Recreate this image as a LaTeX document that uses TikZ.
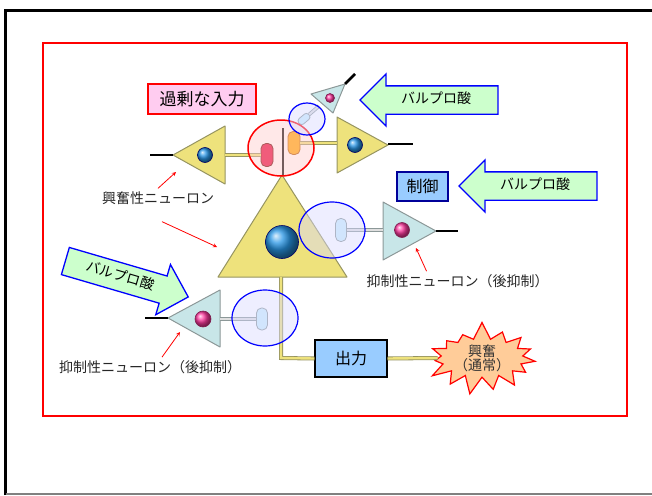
\documentclass[tikz,border=0pt]{standalone}
\usepackage{fontspec}
\setmainfont{Noto Sans CJK JP}
\usepackage{tikz}
\usetikzlibrary{shapes.arrows,shapes.symbols}
\definecolor{excfill}{RGB}{238,226,124}
\definecolor{excline}{RGB}{150,148,96}
\definecolor{inhfill}{RGB}{200,230,232}
\definecolor{inhline}{RGB}{140,152,152}
\definecolor{pinkbox}{RGB}{255,204,240}
\definecolor{vpafill}{RGB}{204,255,204}
\definecolor{bluebox}{RGB}{153,204,255}
\definecolor{starfill}{RGB}{255,204,153}
\definecolor{nucblue}{RGB}{40,150,230}
\definecolor{nucpink}{RGB}{255,60,160}
\newcommand{\vpa}{バルプロ酸}
\newcommand{\inhname}{抑制性ニューロン（後抑制）}
\newcommand{\fs}[1]{\fontsize{#1}{#1}\selectfont}

\begin{document}
\begin{tikzpicture}[x=1pt,y=-1pt,
  exc/.style={fill=excfill,draw=excline,line width=1pt,line join=round},
  inh/.style={fill=inhfill,draw=inhline,line width=1pt,line join=round},
  axy/.style={draw=excline,double=excfill,double distance=2.4pt,line width=0.8pt},
  axg/.style={draw=inhline,double=gray!25,double distance=2pt,line width=0.8pt},
  stem/.style={line width=2.5pt,black},
  knob/.style={rectangle,rounded corners=5pt,minimum width=12pt,minimum height=23pt,inner sep=0pt,line width=0.8pt},
  nucb/.style={circle,inner sep=0pt,ball color=nucblue,draw=blue!40!black,line width=0.6pt},
  nucp/.style={circle,inner sep=0pt,ball color=nucpink,draw=nucpink!50!black,line width=0.6pt},
  syn/.style={draw=blue,line width=1.2pt,fill=blue!15,fill opacity=0.45},
  vparrow/.style={single arrow,draw=blue,line width=1.3pt,fill=vpafill,single arrow head extend=12pt,
    minimum height=138pt,inner ysep=7pt,text height=10pt,text depth=3pt,font=\fs{14}},
  boxb/.style={fill=bluebox,line width=1.2pt,inner sep=0pt,font=\fs{16}},
  lbl/.style={font=\fs{14},text=black!85,inner sep=3pt},
  note/.style={red,line width=0.8pt,-stealth}]
\useasboundingbox (0,0) rectangle (652,495);

\draw[line width=2.5pt] (5.5,495) -- (5.5,10.5) -- (652,10.5);
\draw[gray,line width=1.5pt] (5.5,494) -- (652,494);
\draw[red,line width=2pt] (43,43) rectangle (627,416);

\draw[exc] (282,175) -- (347,277) -- (218,277) -- cycle;
\draw[exc] (173,155) -- (225,126) -- (225,184) -- cycle;
\draw[exc] (388,145) -- (337,117) -- (337,173) -- cycle;
\draw[inh] (436,231) -- (383,202) -- (383,260) -- cycle;
\draw[inh] (168,318) -- (220,290) -- (220,347) -- cycle;
\draw[inh] (311,94) -- (345,84) -- (333,113) -- cycle;

\node[knob,fill=red!75!magenta!90!black,draw=red!40!black] (pk) at (267,155) {};
\node[knob,fill=orange!70!yellow,draw=orange!70!black] (ok) at (294,143) {};
\node[knob,minimum width=11pt,fill=cyan!20,draw=inhline] (rk) at (341,230) {};
\node[knob,minimum width=11pt,minimum height=22pt,fill=cyan!20,draw=inhline] (bk) at (262,319) {};
\node[knob,minimum width=13pt,minimum height=7pt,rounded corners=3pt,rotate=40,fill=cyan!20,draw=inhline] (tk) at (304,119) {};

\node[boxb,draw=black,minimum width=72pt,minimum height=37pt] (out) at (351,358.5) {出力};
\node[starburst,starburst points=15,starburst point height=18pt,random starburst=7,
  fill=starfill,draw=red,line width=1.2pt,minimum width=118pt,minimum height=70pt,
  align=center,font=\fs{14},text=black!80,inner sep=0pt] (boom) at (482,358) {興奮\\（通常）};

\draw[axy] (225,155) -- (pk);
\draw[axy] (337,143) -- (ok);
\draw[axg] (383,230) -- (rk);
\draw[axg] (220,319) -- (bk);
\draw[axg] (319,106) -- (tk);
\draw[axy] (281,277) -- (281,358) -- (out.west);
\draw[axy] (out.east) -- (boom.west);

\node[nucb,minimum size=33pt] at (282,242) {};
\node[nucb,minimum size=15pt] at (205,155) {};
\node[nucb,minimum size=15pt] at (355,145) {};
\node[nucp,minimum size=15pt] at (402,230) {};
\node[nucp,minimum size=16pt] at (203,319) {};
\node[nucp,minimum size=9pt] at (330,98) {};

\draw[stem] (150,155) -- (173,155);
\draw[stem] (388,144) -- (413,144);
\draw[stem] (436,231) -- (458,231);
\draw[stem] (145,318) -- (168,318);
\draw[stem] (345,84) -- (355,74);
\draw[stem] (283,128) -- (283,175);

\draw[draw=red,line width=1.5pt,fill=red!20,fill opacity=0.45] (281,148) ellipse [x radius=33,y radius=28];
\foreach \cx/\cy/\rx/\ry in {307/119/18/16, 332/230/33/28, 265/318/33/28}
  \draw[syn] (\cx,\cy) ellipse [x radius=\rx,y radius=\ry];

\node[draw=red,line width=1.5pt,fill=pinkbox,minimum width=108pt,minimum height=30pt,font=\fs{17}] (over) at (202,99) {過剰な入力};
\node[boxb,draw=blue!60!black,minimum width=51pt,minimum height=29pt] (ctrl) at (422.5,186.5) {制御};

\node[vparrow,shape border rotate=180] (vp1) at (436,100) {\vpa};
\node[vparrow,shape border rotate=180] (vp2) at (535,186) {\vpa};
\node[vparrow,minimum height=128pt,rotate=-16.3] (vp3) at (120,277) {\vpa};

\node[lbl] (exl) at (158,198) {興奮性ニューロン};
\node[lbl] (ril) at (457.5,281) {\inhname};
\node[lbl] (bil) at (150,367) {\inhname};

\coordinate (lt) at (176,172);
\coordinate (bt) at (217,247);
\coordinate (rt) at (416,248);
\coordinate (blt) at (180,332);
\draw[note] (exl.north) -- (lt);
\draw[note] ([xshift=4pt,yshift=-14pt]exl.south) -- (bt);
\draw[note] ([xshift=-31pt]ril.north) -- (rt);
\draw[note] ([xshift=12pt]bil.north) -- (blt);
\end{tikzpicture}
\end{document}
